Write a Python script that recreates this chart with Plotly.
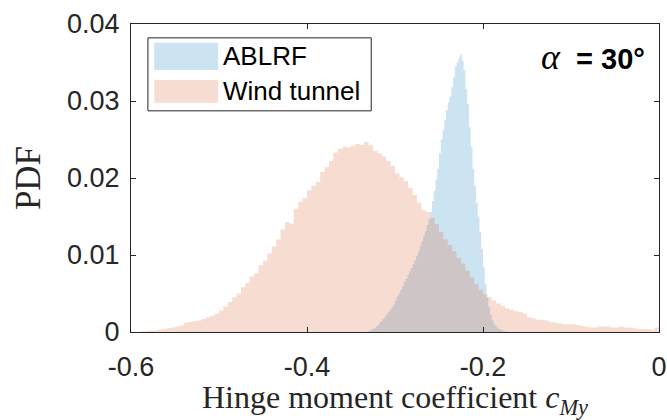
import plotly.graph_objects as go

# ABLRF: probability per bin, bins of width 0.002 starting at -0.330
ablrf_bin_start = -0.330
ablrf_bin_width = 0.002
ablrf_pdf = [
    0.0002, 0.0003, 0.0004, 0.0005, 0.0007, 0.0009, 0.0012, 0.0014, 0.0017, 0.0020,
    0.0023, 0.0026, 0.0029, 0.0032, 0.0036, 0.0041, 0.0046, 0.0050, 0.0055, 0.0060,
    0.0065, 0.0069, 0.0074, 0.0079, 0.0083, 0.0088, 0.0093, 0.0099, 0.0105, 0.0112,
    0.0118, 0.0125, 0.0131, 0.0139, 0.0147, 0.0156, 0.0170, 0.0183, 0.0198, 0.0212,
    0.0232, 0.0250, 0.0262, 0.0275, 0.0288, 0.0298, 0.0306, 0.0318, 0.0331, 0.0345,
    0.0350, 0.0356, 0.0360, 0.0352, 0.0340, 0.0316, 0.0296, 0.0266, 0.0240, 0.0212,
    0.0190, 0.0168, 0.0150, 0.0130, 0.0108, 0.0084, 0.0062, 0.0045, 0.0032, 0.0022,
    0.0015, 0.0010, 0.0007, 0.0005, 0.0004, 0.0003, 0.0002, 0.0001, 0.0001,
]

# Wind tunnel: probability per bin, bins of width 0.005 starting at -0.600
wind_bin_start = -0.600
wind_bin_width = 0.005
wind_pdf = [
    0.0000, 0.0000, 0.0001, 0.0001, 0.0002, 0.0002, 0.0003, 0.0004, 0.0005, 0.0006,
    0.0007, 0.0008, 0.0012, 0.0013, 0.0014, 0.0015, 0.0017, 0.0019, 0.0021, 0.0024,
    0.0028, 0.0033, 0.0039, 0.0045, 0.0050, 0.0058, 0.0064, 0.0072, 0.0076, 0.0087,
    0.0093, 0.0102, 0.0111, 0.0120, 0.0133, 0.0143, 0.0141, 0.0160, 0.0169, 0.0174,
    0.0184, 0.0190, 0.0195, 0.0208, 0.0214, 0.0222, 0.0233, 0.0238, 0.0241, 0.0240,
    0.0242, 0.0244, 0.0243, 0.0247, 0.0243, 0.0235, 0.0232, 0.0228, 0.0222, 0.0216,
    0.0206, 0.0201, 0.0196, 0.0187, 0.0178, 0.0168, 0.0158, 0.0156, 0.0148, 0.0140,
    0.0130, 0.0120, 0.0113, 0.0105, 0.0096, 0.0089, 0.0080, 0.0071, 0.0062, 0.0055,
    0.0049, 0.0045, 0.0041, 0.0037, 0.0034, 0.0031, 0.0029, 0.0027, 0.0026, 0.0024,
    0.0019, 0.0018, 0.0016, 0.0016, 0.0015, 0.0013, 0.0012, 0.0011, 0.0010, 0.0010,
    0.0010, 0.0009, 0.0008, 0.0007, 0.0006, 0.0006, 0.0007, 0.0007, 0.0007, 0.0006,
    0.0006, 0.0007, 0.0006, 0.0006, 0.0005, 0.0004, 0.0004, 0.0004, 0.0003, 0.0006,
]

series_names = ["ABLRF", "Wind tunnel"]
x_ticks = [-0.6, -0.4, -0.2, 0.0]
x_tick_labels = ["-0.6", "-0.4", "-0.2", "0"]
y_ticks = [0.0, 0.01, 0.02, 0.03, 0.04]
y_tick_labels = ["0", "0.01", "0.02", "0.03", "0.04"]
angle_label = "30°"

BLUE = "rgba(0,114,189,0.2)"
ORANGE = "rgba(217,83,25,0.2)"
AXIS = "#262626"
SANS = "Liberation Sans, Arial, Helvetica"
SERIF = "Liberation Serif, Times New Roman, serif"


def step_area(start, width, heights):
    """Edges and heights for a stair-step outline of a histogram."""
    edges = [start + width * i for i in range(len(heights) + 1)]
    ys = list(heights) + [heights[-1]]
    return edges, ys


fig = go.Figure()
for name, (start, width, vals), color in [
    (series_names[0], (ablrf_bin_start, ablrf_bin_width, ablrf_pdf), BLUE),
    (series_names[1], (wind_bin_start, wind_bin_width, wind_pdf), ORANGE),
]:
    ex, ey = step_area(start, width, vals)
    fig.add_trace(go.Scatter(
        x=ex, y=ey, name=name, mode="lines", line=dict(width=0, shape="hv"),
        fill="tozeroy", fillcolor=color, showlegend=False, hoverinfo="skip",
    ))

# Legend drawn as a boxed panel with large swatches
shapes = [
    dict(type="rect", xref="paper", yref="paper", x0=0.032, x1=0.455, y0=0.718, y1=0.955,
         line=dict(color=AXIS, width=1), fillcolor="white", layer="above"),
    dict(type="rect", xref="paper", yref="paper", x0=0.044, x1=0.165, y0=0.851, y1=0.939,
         line=dict(width=0), fillcolor=BLUE, layer="above"),
    dict(type="rect", xref="paper", yref="paper", x0=0.044, x1=0.165, y0=0.744, y1=0.818,
         line=dict(width=0), fillcolor=ORANGE, layer="above"),
]
annotations = [
    dict(xref="paper", yref="paper", x=0.171, y=0.895, text=series_names[0], showarrow=False,
         xanchor="left", yanchor="middle", font=dict(family=SANS, size=26, color="#000")),
    dict(xref="paper", yref="paper", x=0.171, y=0.781, text=series_names[1], showarrow=False,
         xanchor="left", yanchor="middle", font=dict(family=SANS, size=26, color="#000")),
    dict(xref="paper", yref="paper", x=0.977, y=0.893,
         text='<span style="font-family:Liberation Serif;font-size:36px"><i>α</i></span>'
              '<b>\u00a0\u00a0= ' + angle_label + '</b>',
         showarrow=False, xanchor="right", yanchor="middle",
         font=dict(family=SANS, size=29, color="#000")),
]

fig.update_layout(
    width=667, height=420,
    margin=dict(l=131, r=8, t=24, b=88),
    paper_bgcolor="white", plot_bgcolor="white",
    shapes=shapes, annotations=annotations,
    font=dict(family=SANS, size=27, color=AXIS),
)
fig.update_xaxes(
    range=[-0.6, 0], tickvals=x_ticks, ticktext=x_tick_labels, automargin=False,
    showline=True, mirror="allticks", linecolor=AXIS, linewidth=1.3,
    ticks="inside", ticklen=5, tickwidth=1, tickcolor=AXIS, showgrid=False, zeroline=False,
    tickfont=dict(size=27), ticklabelstandoff=10, ticklabeloverflow="allow",
    title=dict(text="Hinge moment coefficient <i>c</i><sub><i>My</i></sub>",
               font=dict(family=SERIF, size=32, color=AXIS), standoff=4),
)
fig.update_yaxes(
    range=[0, 0.04], tickvals=y_ticks, ticktext=y_tick_labels, automargin=False,
    showline=True, mirror="allticks", linecolor=AXIS, linewidth=1.3,
    ticks="inside", ticklen=5, tickwidth=1, tickcolor=AXIS, showgrid=False, zeroline=False,
    tickfont=dict(size=27), ticklabelstandoff=5, ticklabeloverflow="allow",
    title=dict(text="PDF", font=dict(family=SERIF, size=35, color=AXIS), standoff=15),
)

fig.write_html("out.html")
